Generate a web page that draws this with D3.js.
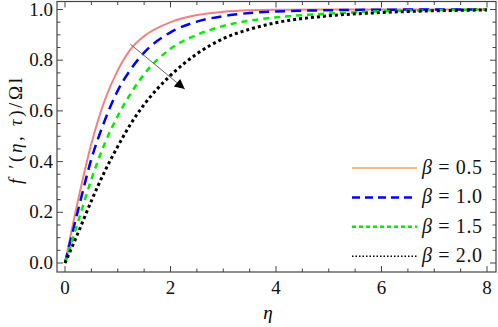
<!DOCTYPE html>
<html><head><meta charset="utf-8">
<script src="https://cdn.jsdelivr.net/npm/d3@7"></script>
<style>body{margin:0;background:#fff}svg{display:block}</style>
</head><body><svg id="c" width="498" height="327"></svg>
<script>
const etaGrid = [0,0.25,0.5,0.75,1,1.25,1.5,2,2.5,3,3.5,4,5,6,7,8];
const beta05 = [0,0.25,0.47,0.64,0.76,0.845,0.895,0.95,0.978,0.991,0.997,0.999,1,1,1,1];
const beta10 = [0,0.21,0.41,0.56,0.68,0.765,0.83,0.91,0.952,0.974,0.986,0.992,0.997,0.999,1,1];
const beta15 = [0,0.165,0.33,0.47,0.58,0.67,0.745,0.845,0.90,0.935,0.956,0.969,0.984,0.993,0.997,1];
const beta20 = [0,0.12,0.245,0.36,0.46,0.55,0.625,0.74,0.825,0.885,0.922,0.948,0.975,0.988,0.995,0.998];
const legendLabels = ["0.5","1.0","1.5","2.0"];
const xTicks = [0,2,4,6,8];
const yTicks = [0,0.2,0.4,0.6,0.8,1.0];

const FONT = "Liberation Serif";
const svg = d3.select("#c");
const L=57, R=496, T=1.5, B=272;
const x = d3.scaleLinear().domain([0,8]).range([65,487]);
const y = d3.scaleLinear().domain([0,1]).range([263,9.5]);

const series = [
  {v:beta05, color:"#f28080", dash:null, w:2},
  {v:beta10, color:"#0000ff", dash:"10,6", w:2.5},
  {v:beta15, color:"#00ee00", dash:"6,5", w:2.5},
  {v:beta20, color:"#000000", dash:"3,3", w:3}
];
const line = d3.line().x((d,i)=>x(etaGrid[i])).y(d=>y(d)).curve(d3.curveMonotoneX);
series.forEach(s=>{
  svg.append("path").attr("d",line(s.v)).attr("fill","none").attr("stroke",s.color)
    .attr("stroke-width",s.w).attr("stroke-dasharray",s.dash);
});

// frame
const fc="#444";
svg.append("rect").attr("x",L).attr("y",T).attr("width",R-L).attr("height",B-T)
  .attr("fill","none").attr("stroke",fc).attr("stroke-width",1.2);
d3.range(0,8.01,0.5).forEach(t=>{
  const major = Math.abs(t%2)<1e-6, len = major?6:3.5;
  svg.append("line").attr("x1",x(t)).attr("x2",x(t)).attr("y1",B).attr("y2",B-len).attr("stroke",fc);
  svg.append("line").attr("x1",x(t)).attr("x2",x(t)).attr("y1",T).attr("y2",T+len).attr("stroke",fc);
});
d3.range(0,1.001,0.05).forEach(t=>{
  const major = Math.abs(Math.round(t*10)-t*10)<1e-6 && Math.round(t*10)%2===0, len = major?6:3.5;
  svg.append("line").attr("y1",y(t)).attr("y2",y(t)).attr("x1",L).attr("x2",L+len).attr("stroke",fc);
  svg.append("line").attr("y1",y(t)).attr("y2",y(t)).attr("x1",R).attr("x2",R-len).attr("stroke",fc);
});
xTicks.forEach(t=>svg.append("text").attr("x",x(t)).attr("y",294).attr("text-anchor","middle")
  .attr("font-family",FONT).attr("font-size",19).attr("fill","#111").text(t));
yTicks.forEach(t=>svg.append("text").attr("x",53).attr("y",y(t)+6).attr("text-anchor","end")
  .attr("font-family",FONT).attr("font-size",19).attr("fill","#111").text(t.toFixed(1)));

// axis labels
svg.append("text").attr("x",268).attr("y",319).attr("text-anchor","middle").attr("font-size",19)
  .attr("font-family",FONT).attr("font-style","italic").text("η");
const yl = svg.append("text").attr("transform","translate(22,131) rotate(-90)").attr("text-anchor","middle")
  .attr("font-family",FONT).attr("font-size",19).attr("fill","#111")
  .attr("textLength",106).attr("lengthAdjust","spacing");
yl.append("tspan").attr("font-style","italic").text("f");
yl.append("tspan").text(" ′(");
yl.append("tspan").attr("font-style","italic").text("η");
yl.append("tspan").text(", ");
yl.append("tspan").attr("font-style","italic").text("τ");
yl.append("tspan").text(")/Ωl");

// arrow
svg.append("defs").append("marker").attr("id","ah").attr("viewBox","0 0 10 10").attr("refX",10).attr("refY",5)
  .attr("markerWidth",14).attr("markerHeight",10).attr("markerUnits","userSpaceOnUse").attr("orient","auto")
  .append("path").attr("d","M0,0 L10,5 L0,10 Z").attr("fill","#000");
svg.append("line").attr("x1",x(1.24)).attr("y1",y(0.863)).attr("x2",x(2.27)).attr("y2",y(0.686))
  .attr("stroke","#666").attr("stroke-width",1).attr("marker-end","url(#ah)");

// legend
const legStyles = [
  {color:"#f5a55c", dash:null, w:1.6},
  {color:"#0000ff", dash:"8,5", w:2.5},
  {color:"#00ee00", dash:"4,3", w:2.5},
  {color:"#000000", dash:"1.5,2", w:1.5}
];
legendLabels.forEach((lab,i)=>{
  const yy = 168 + i*29.4;
  svg.append("line").attr("x1",352).attr("x2",417).attr("y1",yy).attr("y2",yy)
    .attr("stroke",legStyles[i].color).attr("stroke-width",legStyles[i].w).attr("stroke-dasharray",legStyles[i].dash);
  const t = svg.append("text").attr("x",422).attr("y",yy+6).attr("font-family",FONT).attr("font-size",20).attr("fill","#111")
    .attr("textLength",60).attr("lengthAdjust","spacing");
  t.append("tspan").attr("font-style","italic").text("β");
  t.append("tspan").text(" = "+lab);
});
</script></body></html>
